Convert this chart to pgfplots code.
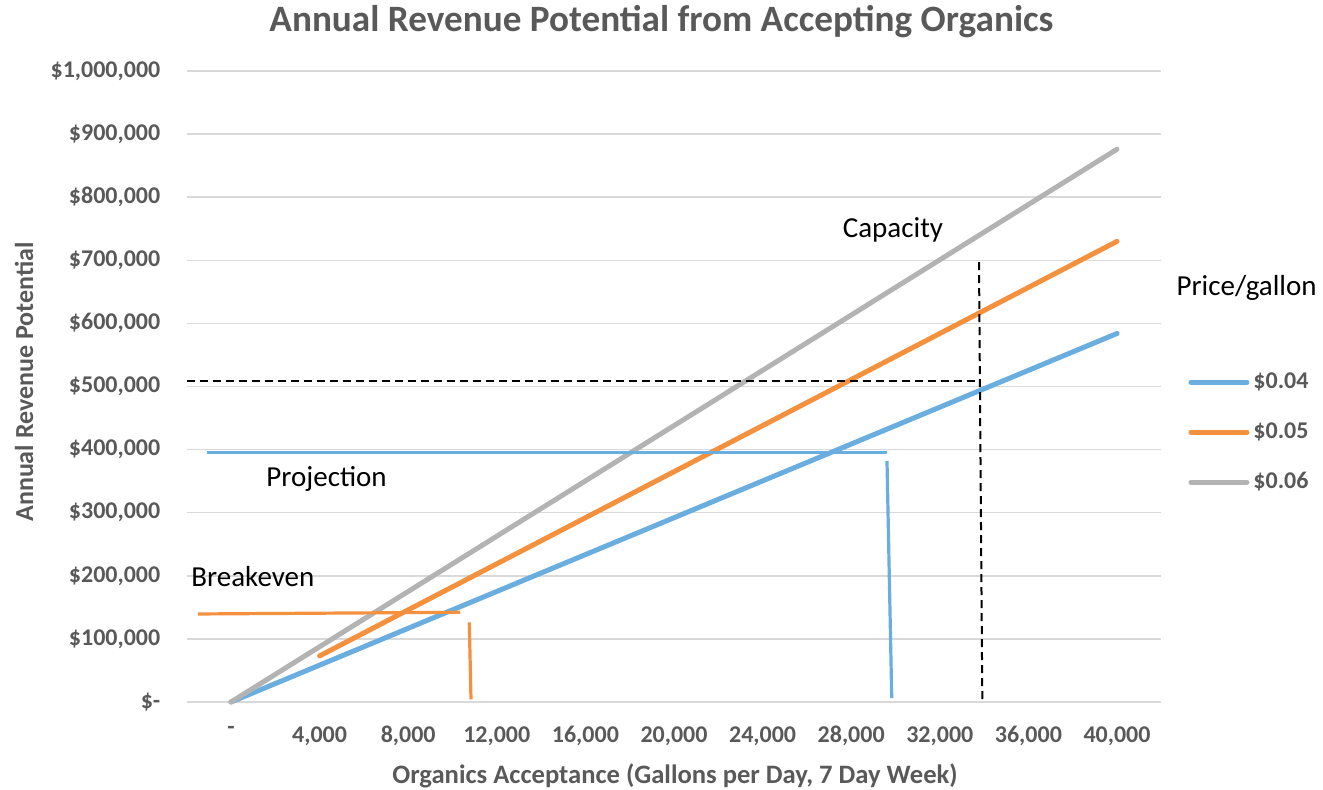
\documentclass[border=0pt]{standalone}
\usepackage{pgfplots}
\pgfplotsset{compat=1.18}
\usepackage{fontspec}
\setmainfont{Carlito}
\definecolor{cblue}{HTML}{6AADDF}
\definecolor{corange}{HTML}{F4913F}
\definecolor{cgray}{HTML}{B3B3B3}
\definecolor{labgray}{HTML}{595959}
\definecolor{gridgray}{HTML}{D9D9D9}
\begin{document}
\begin{tikzpicture}[x=1pt,y=1pt]
\useasboundingbox (0,0) rectangle (661.5,394.5);
\begin{axis}[
  at={(93.35pt,43.5pt)}, anchor=south west,
  scale only axis, width=487.3pt, height=315.5pt,
  xmin=-2000, xmax=42000, ymin=0, ymax=1000000,
  clip=false,
  axis line style={draw=none},
  ymajorgrids, grid style={color=gridgray, line width=0.75pt},
  major tick length=0pt,
  scaled ticks=false,
  xtick={0,4000,8000,12000,16000,20000,24000,28000,32000,36000,40000},
  xticklabels={-,{4,000},{8,000},{12,000},{16,000},{20,000},{24,000},{28,000},{32,000},{36,000},{40,000}},
  ytick={0,100000,200000,300000,400000,500000,600000,700000,800000,900000,1000000},
  yticklabels={{\$-},{\$100,000},{\$200,000},{\$300,000},{\$400,000},{\$500,000},{\$600,000},{\$700,000},{\$800,000},{\$900,000},{\$1,000,000}},
  tick label style={font=\fontsize{12}{14}\selectfont\bfseries, text=labgray},
  xticklabel style={anchor=north, inner sep=0pt, yshift=-12pt},
  yticklabel style={anchor=east, inner sep=0pt, xshift=-13pt},
  legend style={draw=none, fill=none, inner sep=0pt, at={(1.0274,0.5095)}, anchor=north west, yshift=4pt,
    font=\fontsize{12}{14}\selectfont\bfseries, text=labgray, row sep=15.5pt,
    nodes={inner sep=0pt},
    /tikz/every odd column/.append style={column sep=2pt}},
  legend cell align=left,
  legend image code/.code={\draw[#1, line width=2.5pt, line cap=round] (0pt,0pt) -- (28pt,0pt);},
]
\addplot[cblue, line width=2.5pt, line cap=round] coordinates {
 (0,0) (4000,58400) (8000,116800) (12000,175200) (16000,233600) (20000,292000)
 (24000,350400) (28000,408800) (32000,467200) (36000,525600) (40000,584000)};
\addlegendentry{\$0.04}
\addplot[corange, line width=2.5pt, line cap=round] coordinates {
 (4000,73000) (8000,146000) (12000,219000) (16000,292000) (20000,365000)
 (24000,438000) (28000,511000) (32000,584000) (36000,657000) (40000,730000)};
\addlegendentry{\$0.05}
\addplot[cgray, line width=2.5pt, line cap=round] coordinates {
 (0,0) (4000,87600) (8000,175200) (12000,262800) (16000,350400) (20000,438000)
 (24000,525600) (28000,613200) (32000,700800) (36000,788400) (40000,876000)};
\addlegendentry{\$0.06}
% projection
\addplot[cblue, line width=1.6pt, forget plot] coordinates {(-1080,395000) (29616,395000)};
\addplot[cblue, line width=1.6pt, forget plot] coordinates {(29616,382000) (29830,6300)};
% breakeven
\addplot[corange, line width=1.6pt, forget plot] coordinates {(-1500,139500) (10339,142200)};
\addplot[corange, line width=1.6pt, forget plot] coordinates {(10758,126300) (10835,4300)};
% capacity
\addplot[black, line width=1pt, dash pattern=on 4pt off 2.5pt, forget plot] coordinates {(-2000,508700) (33725,508700)};
\addplot[black, line width=1pt, dash pattern=on 4pt off 2.5pt, forget plot] coordinates {(33770,697000) (33920,0)};
\end{axis}
\node[font=\fontsize{18.6}{22}\selectfont\bfseries, text=labgray] at (330.75,383.5) {Annual Revenue Potential from Accepting Organics};
\node[rotate=90, font=\fontsize{13}{15}\selectfont\bfseries, text=labgray] at (12,203.5) {Annual Revenue Potential};
\node[font=\fontsize{13.3}{15}\selectfont\bfseries, text=labgray] at (337.5,6.5) {Organics Acceptance (Gallons per Day, 7 Day Week)};
\node[font=\fontsize{14.5}{17}\selectfont, anchor=base, inner sep=0pt] at (446.5,276) {Capacity};
\node[font=\fontsize{14.5}{17}\selectfont, anchor=base, inner sep=0pt] at (163.3,151.2) {Projection};
\node[font=\fontsize{14.5}{17}\selectfont, anchor=base, inner sep=0pt] at (126.4,101.2) {Breakeven};
\node[font=\fontsize{14.5}{17}\selectfont, anchor=base, inner sep=0pt] at (623.3,247) {Price/gallon};
\end{tikzpicture}
\end{document}
